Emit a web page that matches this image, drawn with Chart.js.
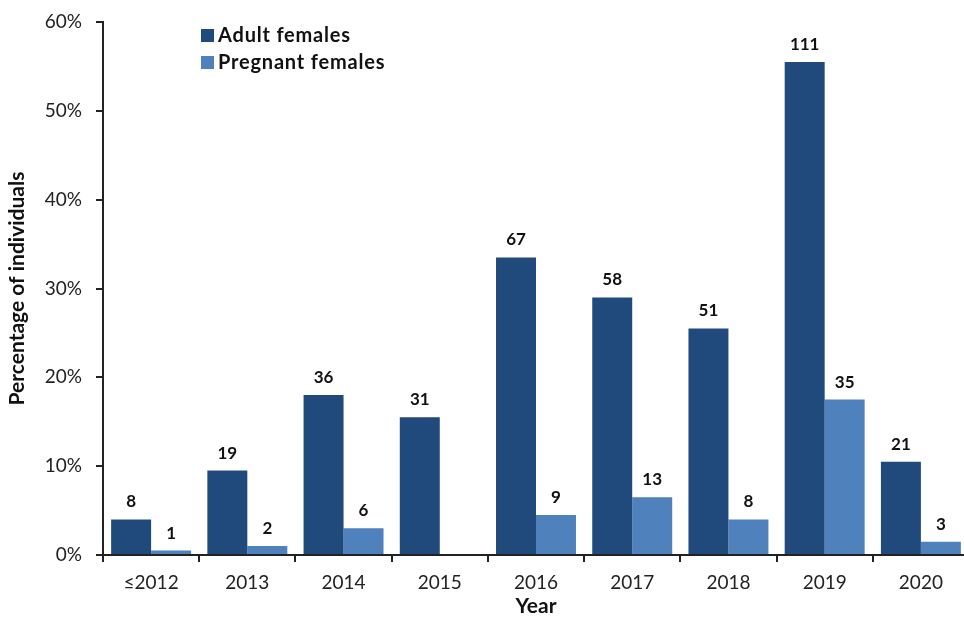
<!DOCTYPE html>
<html>
<head>
<meta charset="utf-8">
<script src="https://cdn.jsdelivr.net/npm/chart.js@4"></script>
<style>
  body { margin: 0; background: #fff; overflow: hidden; }
</style>
</head>
<body>
<!-- a touch wider than the window: the last category is cut at the edge -->
<canvas id="femaleChart" width="969" height="619"></canvas>
<script>
const years = ["≤2012", "2013", "2014", "2015", "2016", "2017", "2018", "2019", "2020"];
const adultCounts = [8, 19, 36, 31, 67, 58, 51, 111, 21];
const pregnantCounts = [1, 2, 6, null, 9, 13, 8, 35, 3];
const totalIndividuals = 200;
const yTicks = [0, 10, 20, 30, 40, 50, 60];

const toPercent = (n) => (n == null ? null : (n / totalIndividuals) * 100);

let ctx = document.getElementById("femaleChart").getContext("2d");

// count labels above each bar
const countLabels = {
  id: "countLabels",
  afterDatasetsDraw(chart) {
    const c = chart.ctx;
    c.save();
    c.font = "bold 17px Lato";
    c.fillStyle = "#111";
    c.textAlign = "center";
    c.textBaseline = "alphabetic";
    chart.data.datasets.forEach((ds, i) => {
      chart.getDatasetMeta(i).data.forEach((bar, j) => {
        if (ds.counts[j] == null) return;
        c.fillText(ds.counts[j], bar.x, bar.y - 12);
      });
    });
    c.restore();
  },
};

// small legend inside the plot
const boxLegend = {
  id: "boxLegend",
  afterDraw(chart) {
    const c = chart.ctx;
    c.save();
    c.font = "bold 20px Lato";
    c.letterSpacing = "0.8px";
    c.textBaseline = "alphabetic";
    chart.data.datasets.forEach((ds, i) => {
      const y = 42 + i * 27;
      c.fillStyle = ds.backgroundColor;
      c.fillRect(201, y - 13, 13, 13);
      c.fillStyle = "#111";
      c.fillText(ds.label, 218, y);
    });
    c.restore();
  },
};

var femaleChart = new Chart(ctx, {
  type: "bar",
  data: {
    labels: years,
    datasets: [
      {
        label: "Adult females",
        data: adultCounts.map(toPercent),
        counts: adultCounts,
        backgroundColor: "#214a7c",
        borderWidth: 0,
      },
      {
        label: "Pregnant females",
        data: pregnantCounts.map(toPercent),
        counts: pregnantCounts,
        backgroundColor: "#4f81bd",
        borderWidth: 0,
      },
    ],
  },
  options: {
    responsive: false,
    animation: false,
    layout: { padding: { top: 22, right: 0, left: 4, bottom: 0 } },
    datasets: {
      bar: { categoryPercentage: 0.831, barPercentage: 1 },
    },
    plugins: {
      legend: { display: false },
      tooltip: { enabled: false },
    },
    scales: {
      x: {
        afterFit(axis) {
          axis.height = 64;
          axis.paddingLeft = 0;
          axis.paddingRight = 0;
        },
        grid: {
          drawOnChartArea: false,
          tickLength: 7,
          color: "#222",
          lineWidth: 2,
        },
        border: { color: "#222", width: 2 },
        ticks: {
          color: "#222",
          font: { family: "Lato", size: 19 },
          padding: 9,
        },
        title: {
          display: true,
          text: "Year",
          color: "#111",
          font: { family: "Lato", size: 21, weight: "bold" },
          padding: { top: 3, bottom: 0 },
        },
      },
      y: {
        min: 0,
        max: 60,
        afterBuildTicks(axis) {
          axis.ticks = yTicks.map((v) => ({ value: v }));
        },
        afterFit(axis) {
          axis.width = 99;
          axis.paddingTop = 0;
          axis.paddingBottom = 0;
        },
        grid: {
          drawOnChartArea: false,
          tickLength: 7,
          color: "#222",
          lineWidth: 2,
        },
        border: { color: "#222", width: 2 },
        ticks: {
          color: "#222",
          font: { family: "Lato", size: 19 },
          padding: 14,
          callback: (v) => v + "%",
        },
        title: {
          display: true,
          text: "Percentage of individuals",
          color: "#111",
          font: { family: "Lato", size: 21, weight: "bold" },
          padding: { top: 1, bottom: 0 },
        },
      },
    },
  },
  plugins: [countLabels, boxLegend],
});
</script>
</body>
</html>
